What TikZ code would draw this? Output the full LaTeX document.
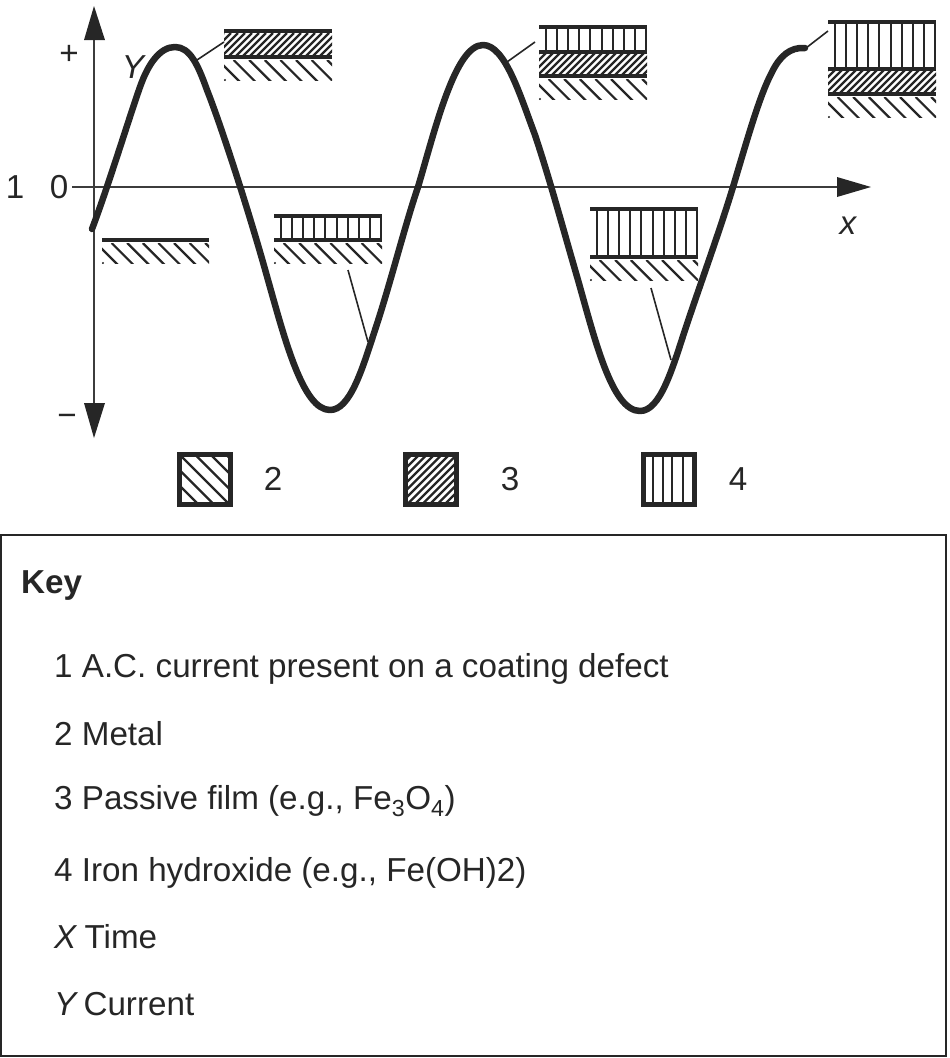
\documentclass[tikz,border=0pt]{standalone}
\usepackage{fontspec}
\setmainfont{Liberation Sans}
\definecolor{ink}{HTML}{262626}
\def\hphase{0}
\newcommand{\hatchband}[7]{% x0,x1,ytop,ybot,dx-per-h,spacing,width
  \begin{scope}
    \clip (#1,#3) rectangle (#2,#4);
    \pgfmathsetmacro{\hh}{#4-#3}
    \pgfmathsetmacro{\sx}{#5*\hh}
    \foreach \k in {-12,...,40} {
      \pgfmathsetmacro{\xa}{#1+\k*#6+\hphase}
      \draw[ink,line width=#7] (\xa,#3) -- ++(\sx,\hh);
    }
  \end{scope}}
\newcommand{\metalband}[3]{\def\hphase{-6}\hatchband{#1}{#2}{#3+3}{#3+23}{1}{15.6}{2.2pt}\def\hphase{0}
  \fill[ink] (#1+1,#3+23) circle (1.2pt);}
\newcommand{\filmband}[4]{\hatchband{#1}{#2}{#3}{#4}{-1}{7}{2.3pt}}
\newcommand{\vertband}[4]{
  \foreach \k in {0,...,9} {
    \pgfmathsetmacro{\xa}{#1+6.5+\k*11.2}
    \draw[ink,line width=2pt] (\xa,#3) -- (\xa,#4);
  }}
\newcommand{\plate}[3]{\draw[ink,line width=4pt] (#1,#3) -- (#2,#3);}
\begin{document}
\begin{tikzpicture}[x=1pt,y=-1pt,
  lbl/.style={inner sep=0pt,font=\fontsize{33.2}{33.2}\selectfont,text=ink},
  keyt/.style={lbl,anchor=base west},
  axisline/.style={draw=ink!90,line width=1.8pt},
  tip/.style={fill=ink,draw=none},
  leader/.style={draw=ink,line width=1.6pt},
  swatch/.style={draw=ink,line width=5pt}]
\useasboundingbox (0,0) rectangle (950,1058);
% axes
\path[axisline] (94,30) -- (94,415);
\path[axisline] (72,187) -- (845,187);
\fill[tip] (94,6) -- (105,40) -- (84,40) -- cycle;
\fill[tip] (94,438) -- (105,403) -- (84,403) -- cycle;
\fill[tip] (871,187) -- (837,177) -- (837,197) -- cycle;
% curve
\draw[ink,line width=6.5pt,line join=round,line cap=round] (92,229)
 .. controls (108,187) and (130,115) .. (140,87)
 .. controls (148,64) and (160,47) .. (175,47)
 .. controls (190,47) and (198,65) .. (207,90)
 .. controls (222,128) and (250,215) .. (268,280)
 .. controls (285,340) and (303,410) .. (330,410)
 .. controls (350,410) and (362,370) .. (375,330)
 .. controls (390,285) and (405,225) .. (418,187)
 .. controls (435,130) and (455,45) .. (483,45)
 .. controls (505,45) and (520,95) .. (535,135)
 .. controls (550,180) and (562,225) .. (578,280)
 .. controls (595,340) and (612,411) .. (640,411)
 .. controls (660,411) and (672,370) .. (685,330)
 .. controls (700,285) and (720,230) .. (733,187)
 .. controls (750,130) and (760,95) .. (772,72)
 .. controls (780,56) and (790,47) .. (805,48);
% leaders
\path[leader] (197,60) -- (224,42);
\path[leader] (507,62) -- (535,42);
\path[leader] (806,48) -- (828,31);
\path[leader] (348,270) -- (368,342);
\path[leader] (651,288) -- (671,360);
% plate A
\plate{102}{209}{240}\metalband{102}{209}{240}
% plate B
\vertband{274}{382}{216}{240}\plate{274}{382}{216}\plate{274}{382}{240}\metalband{274}{382}{240}
% plate C
\filmband{224}{332}{33}{56}\plate{224}{332}{31}\plate{224}{332}{57}\metalband{224}{332}{57}
% plate D
\vertband{539}{647}{27}{52}\filmband{539}{647}{53}{75}\plate{539}{647}{27}\plate{539}{647}{52}\plate{539}{647}{76}\metalband{539}{647}{76}
% plate E
\vertband{590}{698}{209}{257}\plate{590}{698}{209}\plate{590}{698}{257}\metalband{590}{698}{257}
% plate F
\vertband{828}{936}{22}{69}\filmband{828}{936}{70}{93}\plate{828}{936}{22}\plate{828}{936}{69}\plate{828}{936}{94}\metalband{828}{936}{94}
% legend swatches
\hatchband{179}{231}{454}{505}{1}{15.5}{2.4pt}
\draw[swatch] (179.5,454.5) rectangle (230.5,504.5);
\hatchband{405}{457}{454}{505}{-1}{7.5}{2.2pt}
\draw[swatch] (405.5,454.5) rectangle (456.5,504.5);
\foreach \xa in {653,663,672,683} {\draw[ink,line width=2pt] (\xa,454) -- (\xa,505);}
\draw[swatch] (643.5,454.5) rectangle (694.5,504.5);
% labels
\node[lbl] (plus) at (69,55) {+};
\node[lbl] (minus) at (67,420) {−};
\node[lbl] (one) at (15,187) {1};
\node[lbl] (zero) at (59,187) {0};
\node[lbl,font=\fontsize{33.2}{33.2}\selectfont\itshape] (yl) at (133,67) {Y};
\node[lbl,font=\fontsize{33.2}{33.2}\selectfont\itshape] (xl) at (848,226) {x};
\node[lbl] (two) at (273,479) {2};
\node[lbl] (three) at (510,479) {3};
\node[lbl] (four) at (738,479) {4};
% key
\draw[ink,line width=2pt] (1,535) rectangle (946,1056);
\node[keyt,font=\fontsize{33.2}{33.2}\selectfont\bfseries] (key) at (21,593) {Key};
\node[keyt] (k1) at (54,677) {1 A.C. current present on a coating defect};
\node[keyt] (k2) at (54,745) {2 Metal};
\node[keyt] (k3) at (54,809) {3 Passive film (e.g., Fe$_{\mathrm{3}}$O$_{\mathrm{4}}$)};
\node[keyt] (k4) at (54,881) {4 Iron hydroxide (e.g., Fe(OH)2)};
\node[keyt] (k5) at (54,948) {\textit{X}\hspace{-2pt} Time};
\node[keyt] (k6) at (54,1015) {\textit{Y}\hspace{-4pt} Current};
\end{tikzpicture}
\end{document}
